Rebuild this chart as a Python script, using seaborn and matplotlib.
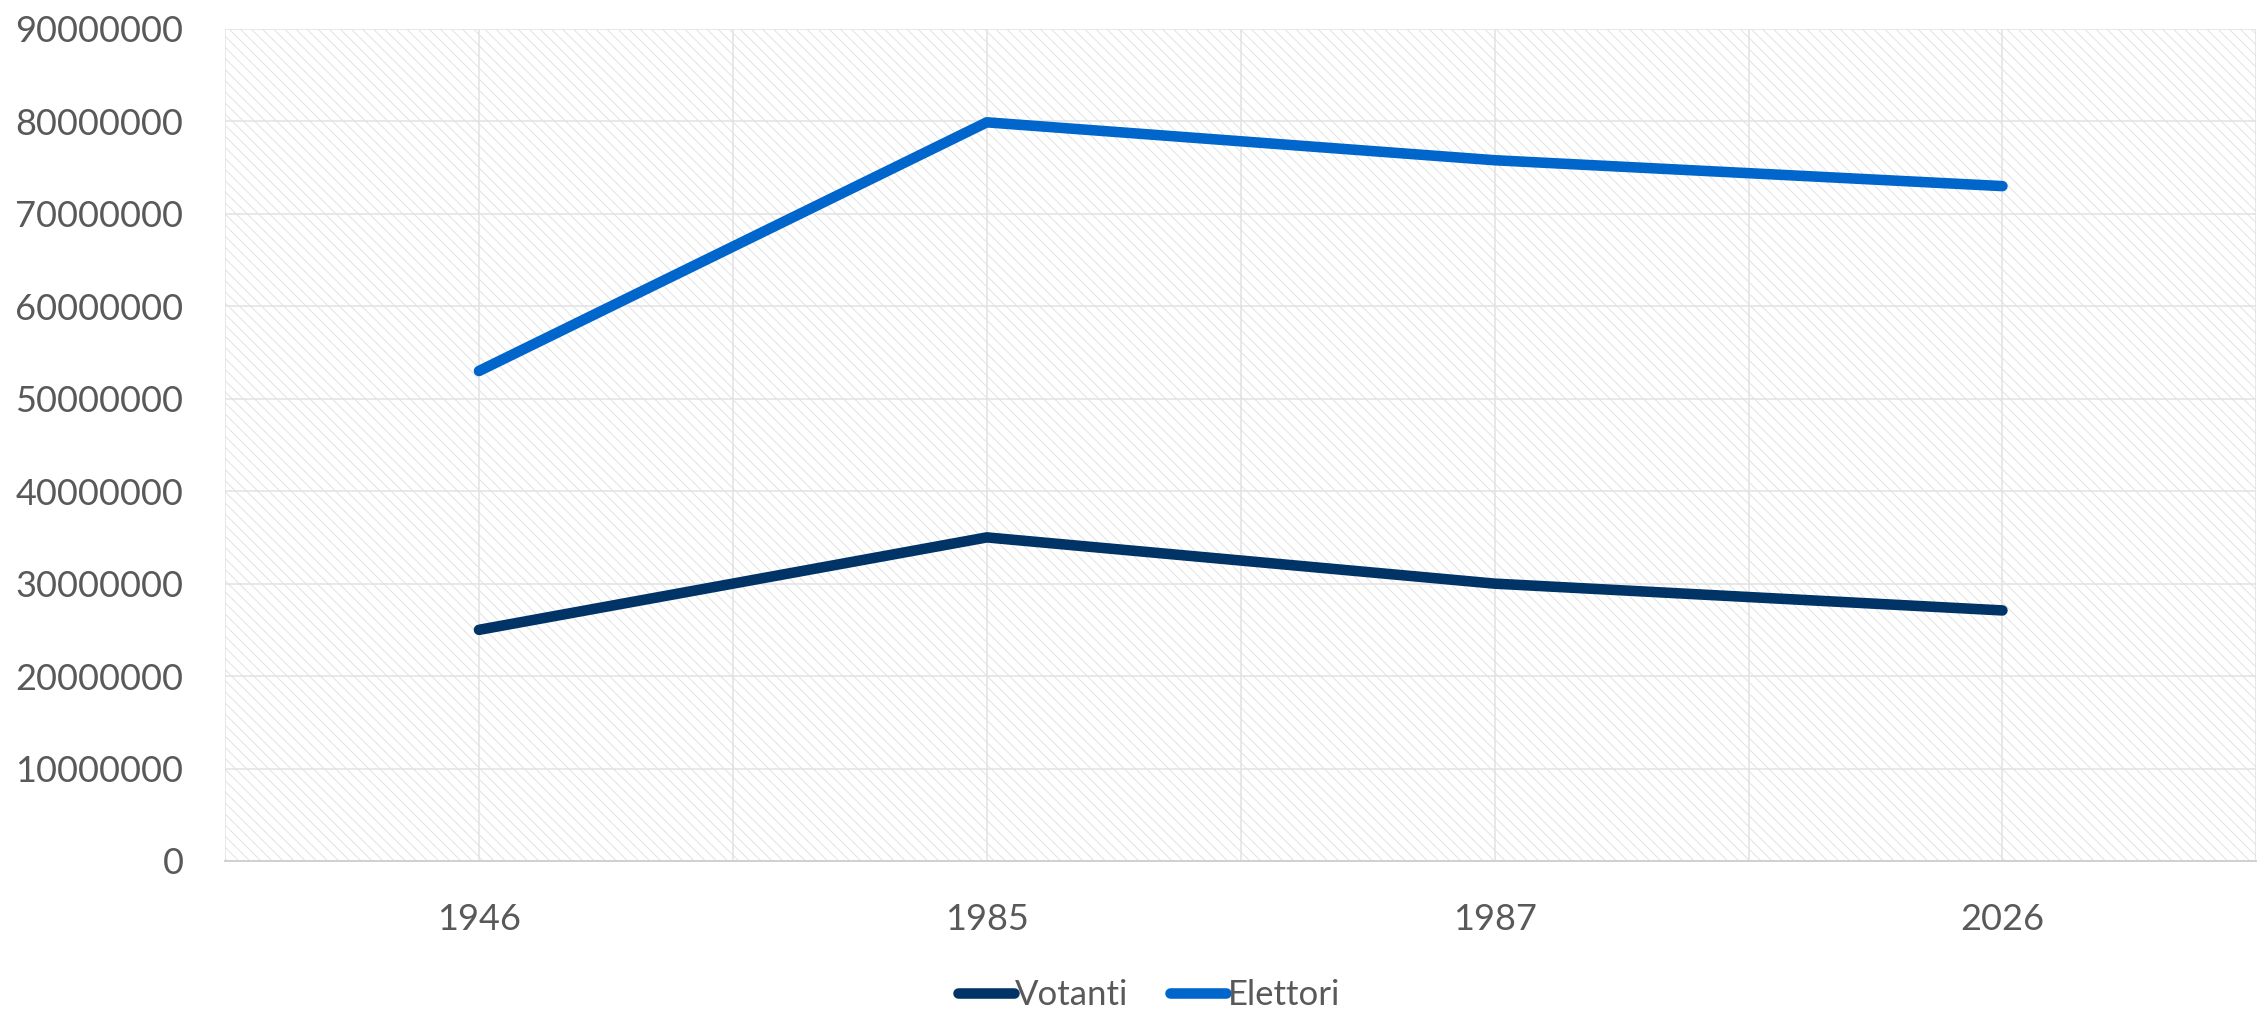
# Votanti vs Elettori over selected years

import pandas as pd
import matplotlib.pyplot as plt
import matplotlib.patches as mpatches
import seaborn as sns

years = ["1946", "1985", "1987", "2026"]
votanti = [25000000, 35000000, 30000000, 27100000]
elettori = [53000000, 79900000, 75800000, 73000000]
series_names = ["Votanti", "Elettori"]
series_colors = ["#003366", "#0066CC"]
y_ticks = list(range(0, 90000001, 10000000))

df = pd.DataFrame({
    "pos": list(range(len(years))) * 2,
    "value": votanti + elettori,
    "serie": [series_names[0]] * len(years) + [series_names[1]] * len(years),
})

sns.set_style("white")
plt.rcParams["font.family"] = ["Lato", "DejaVu Sans"]
plt.rcParams["hatch.color"] = "#dedede"
plt.rcParams["hatch.linewidth"] = 0.6

fig = plt.figure(figsize=(22.62, 10.16), dpi=100)
ax = fig.add_axes([0.0995, 0.1526, 0.898, 0.8189])

# hatched plot background
ax.add_patch(mpatches.Rectangle((0, 0), 1, 1, transform=ax.transAxes,
                                facecolor="white", edgecolor="#dedede",
                                hatch="\\\\\\", linewidth=0, zorder=0))

sns.lineplot(data=df, x="pos", y="value", hue="serie", palette=series_colors,
             linewidth=7.6, ax=ax, legend=False, zorder=3,
             solid_capstyle="round", solid_joinstyle="round")

ax.set_xlim(-0.5, len(years) - 0.5)
ax.set_ylim(0, 90000000)
ax.set_xticks(range(len(years)))
ax.set_xticklabels(years)
ax.set_xticks([i - 0.5 for i in range(len(years) + 1)], minor=True)
ax.set_yticks(y_ticks)
ax.set_yticklabels([str(v) for v in y_ticks])
ax.grid(True, which="both", color="#e2e2e2", linewidth=1.1, zorder=1)
ax.set_axisbelow(True)
ax.tick_params(axis="both", which="both", length=0, colors="#595959", labelsize=26)
ax.tick_params(axis="y", pad=30)
ax.tick_params(axis="x", pad=30)
ax.set_xlabel("")
ax.set_ylabel("")
for s in ["top", "right", "left"]:
    ax.spines[s].set_visible(False)
ax.spines["bottom"].set_color("#d0d0d0")
ax.spines["bottom"].set_linewidth(1.4)

handles = [plt.Line2D([], [], color=c, linewidth=7.6, solid_capstyle="round")
           for c in series_colors]
fig.legend(handles, series_names, loc="center", bbox_to_anchor=(0.508, 0.021),
           ncol=2, frameon=False, fontsize=25, labelcolor="#595959",
           handlelength=1.6, handletextpad=0.05, columnspacing=1.2)

fig.savefig("out.png", dpi=100)
